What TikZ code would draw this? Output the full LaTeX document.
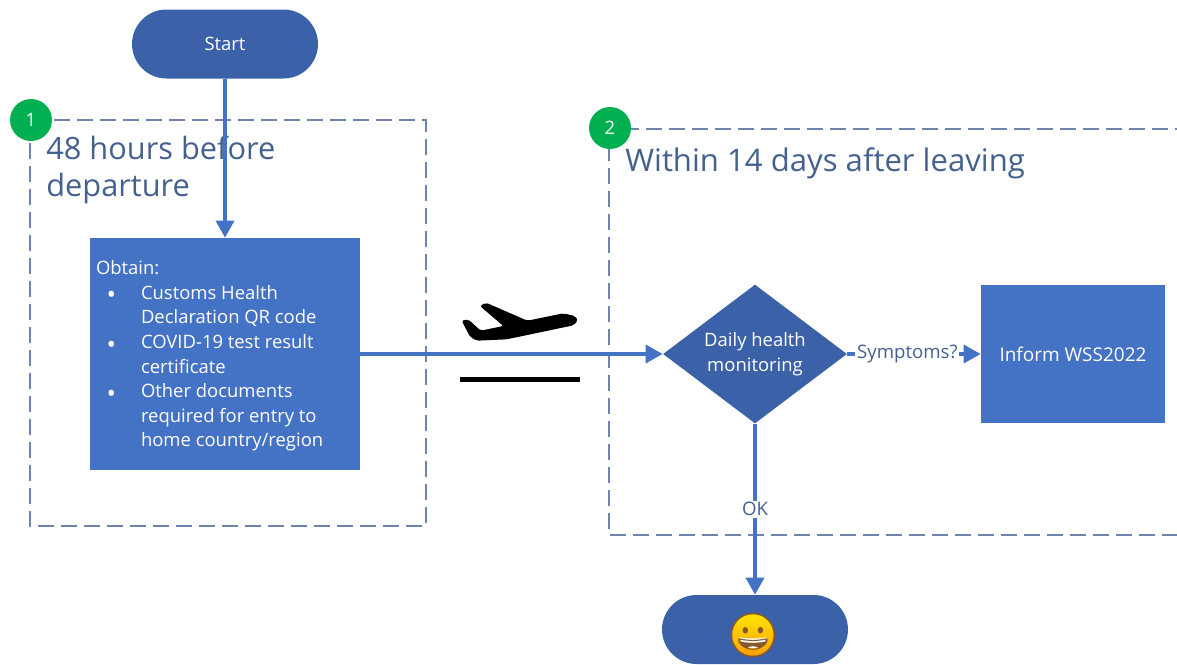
\documentclass[tikz,border=0pt]{standalone}
\usepackage{fontspec}
\setmainfont{Open Sans}
\newfontfamily\emojifont{Noto Emoji}
\usetikzlibrary{arrows.meta,shapes.geometric,shapes.misc}

\definecolor{boxblue}{HTML}{4472C4}
\definecolor{darkblue}{HTML}{3B62A9}
\definecolor{dashblue}{HTML}{6F84AC}
\definecolor{titleblue}{HTML}{44608F}
\definecolor{badgegreen}{HTML}{00B050}

\tikzset{
	terminal/.style={rounded rectangle, fill=darkblue, text=white, minimum width=3.72cm, minimum height=1.38cm, inner sep=0pt, font=\fontsize{10.5}{13}\selectfont},
	process/.style={rectangle, fill=boxblue, text=white, inner sep=0pt, font=\fontsize{10.5}{14}\selectfont},
	decision/.style={diamond, shape aspect=1.32, fill=darkblue, text=white, minimum width=3.68cm, minimum height=2.78cm, inner sep=0pt, align=center, font=\fontsize{10.5}{14}\selectfont},
	flow/.style={draw=boxblue, line width=2pt, -{Triangle[length=0.34cm, width=0.36cm]}},
	phase/.style={draw=dashblue, line width=1.6pt, dash pattern=on 0.32cm off 0.14cm},
	badge/.style={circle, fill=badgegreen, text=white, minimum size=0.84cm, inner sep=0pt, font=\fontsize{10.5}{13}\selectfont},
	title/.style={text=titleblue, anchor=north west, inner sep=0pt, align=left, font=\fontsize{17.5}{21}\selectfont},
	edgelabel/.style={fill=white, text=titleblue, inner sep=1pt, font=\fontsize{10.6}{13}\selectfont}
}

\begin{document}
\begin{tikzpicture}[x=0.02cm, y=-0.02cm]
	\useasboundingbox (0,0) rectangle (1177,664);
	\clip (0,0) rectangle (1177,664);

%dashed phases
	\draw[phase] (30,120) rectangle (426,526);
	\draw[phase] (1260,129) -- (609,129) -- (609,535) -- (1260,535);

	\foreach \xy/ \name/ \num in { {(31,120)/BadgeA/1},{(610,128)/BadgeB/2}} {
		\node[badge] (\name) at \xy {\num};
	}

	\node[title] (TitleA) at (46,136) {48 hours before\\departure};
	\node[title, font=\fontsize{17.7}{21}\selectfont] (TitleB) at (625,147) {Within 14 days after leaving};

%steps
	\node[terminal] (Start) at (225,44) {Start};
	\node[process, minimum width=5.4cm, minimum height=4.64cm] (Obtain) at (225,354) {%
		\begin{minipage}[c][4.64cm][c]{5.16cm}
			\vspace*{0.08cm}
			Obtain:
			\begin{list}{\raisebox{-0.09cm}{\Large\textbullet}}{\setlength{\leftmargin}{0.9cm}\setlength{\labelwidth}{0.5cm}\setlength{\labelsep}{0.5cm}\setlength{\itemsep}{0pt}\setlength{\parsep}{0pt}\setlength{\topsep}{0pt}\setlength{\partopsep}{0pt}}
				\item Customs Health\\Declaration QR code
				\item COVID-19 test result\\certificate
				\item Other documents\\required for entry to\\home country/region
			\end{list}
		\end{minipage}};
	\node[decision] (Health) at (755,354) {Daily health\\monitoring};
	\node[process, minimum width=3.68cm, minimum height=2.76cm, font=\fontsize{10.8}{14}\selectfont] (Inform) at (1073,354) {Inform WSS2022};
	\node[terminal] (Finish) at (755,629.5) {};

%face
	\node[circle, inner sep=0pt, minimum size=0.86cm, top color=yellow!80!orange, bottom color=orange!75!yellow] (Disc) at (753,635) {};
	\fill[white] (740,637) .. controls (745,639) and (761,639) .. (766,637) .. controls (764,652) and (742,652) .. (740,637);
	\node[inner sep=0pt, text=brown!70!black, font=\emojifont\fontsize{25}{25}\selectfont] (Face) at (753,635) {😀};

%plane
	\begin{scope}[shift={(440,280)}, x=0.00667cm, y=-0.00667cm]
		\fill[black, rounded corners=0.04cm] (65,122) -- (85,118) -- (122,152) -- (190,138) -- (120,78) -- (138,68) -- (262,122) -- (370,100) -- (405,108) -- (414,122) -- (400,136) -- (200,178) -- (110,182) -- (90,170) -- cycle;
	\end{scope}
	\draw[black, line width=2.85pt] (460,379) -- (580,379);

%arrows
	\draw[flow] (Start) -- (Obtain);
	\draw[flow] (Obtain) -- (Health);
	\draw[flow] (Health) -- node[edgelabel, pos=0.45] {Symptoms?} (Inform);
	\draw[flow] (Health) -- node[edgelabel, pos=0.5] {OK} (Finish);
\end{tikzpicture}
\end{document}
